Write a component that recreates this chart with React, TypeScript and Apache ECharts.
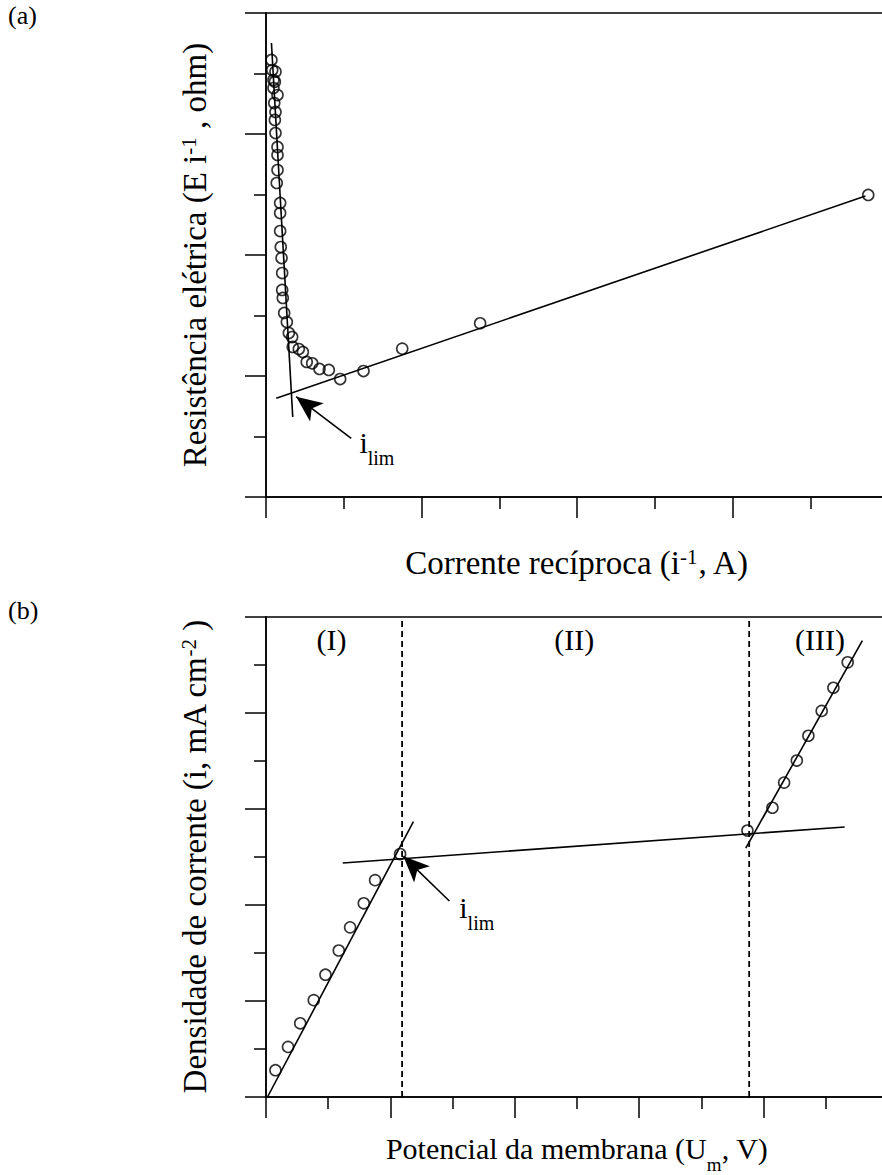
import React, { useEffect, useRef } from "react";
import * as echarts from "echarts";

// ---------- Panel (a): resistance vs reciprocal current ----------
const A_X = [0.035, 0.04, 0.061, 0.048, 0.057, 0.048, 0.074, 0.053, 0.061, 0.057, 0.061, 0.074, 0.074, 0.074, 0.069, 0.091, 0.091, 0.091, 0.095, 0.1, 0.104, 0.104, 0.108, 0.117, 0.134, 0.147, 0.168, 0.172, 0.211, 0.237, 0.262, 0.297, 0.344, 0.404, 0.477, 0.627, 0.876, 1.377, 3.873];
const A_Y = [3.612, 3.529, 3.515, 3.446, 3.432, 3.38, 3.322, 3.256, 3.182, 3.116, 3.008, 2.893, 2.826, 2.702, 2.595, 2.43, 2.347, 2.198, 2.066, 1.975, 1.851, 1.711, 1.645, 1.521, 1.446, 1.355, 1.322, 1.24, 1.223, 1.198, 1.116, 1.105, 1.058, 1.05, 0.975, 1.041, 1.226, 1.436, 2.496];
const A_FIT1_X = [0.035, 0.172];
const A_FIT1_Y = [3.752, 0.661];
const A_FIT2_X = [0.066, 3.855];
const A_FIT2_Y = [0.816, 2.488];
const A_ARROW = [[0.548, 0.485], [0.194, 0.829]];
const A_LABEL_POS = [0.601, 0.57];

// ---------- Panel (b): current density vs membrane potential ----------
const B_X = [0.076, 0.177, 0.275, 0.384, 0.478, 0.585, 0.676, 0.786, 0.877, 1.078, 3.87, 4.071, 4.165, 4.267, 4.36, 4.467, 4.561, 4.676];
const B_Y = [0.279, 0.522, 0.768, 1.009, 1.274, 1.526, 1.767, 2.018, 2.259, 2.531, 2.776, 3.013, 3.275, 3.505, 3.763, 4.022, 4.263, 4.528];
const B_FIT1_X = [0.012, 1.185];
const B_FIT1_Y = [0.0, 2.869];
const B_FIT2_X = [0.617, 4.652];
const B_FIT2_Y = [2.438, 2.813];
const B_FIT3_X = [3.857, 4.794];
const B_FIT3_Y = [2.593, 4.755];
const B_DASH_X = [1.094, 3.884];
const B_ARROW = [[1.474, 2.042], [1.104, 2.507]];
const B_LABEL_POS = [1.554, 2.128];
const B_REGIONS = ["(I)", "(II)", "(III)"];
const B_REGION_X = [0.526, 2.478, 4.454];
const B_REGION_Y = 4.77;

const FONT = '"Liberation Serif", "Times New Roman", serif';
const BLACK = "#000";

function axisBase(fs: number, extra: any) {
  const supFs = Math.round(fs * 0.63);
  return {
    type: "value",
    interval: 1,
    axisLine: { show: true, lineStyle: { color: BLACK, width: 1.5 } },
    axisTick: { show: true, inside: false, length: 21, lineStyle: { color: BLACK, width: 1.5 } },
    minorTick: { show: true, splitNumber: 2, length: 12, lineStyle: { color: BLACK, width: 1.5 } },
    axisLabel: { show: false },
    splitLine: { show: false },
    minorSplitLine: { show: false },
    nameLocation: "middle",
    nameTextStyle: {
      color: BLACK,
      fontFamily: FONT,
      fontSize: fs,
      lineHeight: fs + 6,
      rich: {
        t: { fontSize: fs, lineHeight: fs + 6, fontFamily: FONT, color: BLACK, verticalAlign: "top" },
        sup: { fontSize: supFs, lineHeight: supFs, fontFamily: FONT, color: BLACK, verticalAlign: "top" },
        sub: { fontSize: supFs, lineHeight: supFs, fontFamily: FONT, color: BLACK, verticalAlign: "top", padding: [Math.round(fs * 0.73), 0, 0, 0] },
      },
    },
    ...extra,
  };
}

function pairs(xs: number[], ys: number[]) {
  return xs.map((x, i) => [x, ys[i]]);
}

function fitLine(xs: number[], ys: number[], idx: number) {
  return {
    type: "line",
    xAxisIndex: idx,
    yAxisIndex: idx,
    data: pairs(xs, ys),
    symbol: "none",
    showSymbol: false,
    silent: true,
    lineStyle: { color: BLACK, width: 1.6 },
    z: 3,
  };
}

function arrow(pts: number[][], idx: number) {
  return {
    type: "line",
    xAxisIndex: idx,
    yAxisIndex: idx,
    data: [],
    silent: true,
    markLine: {
      silent: true,
      animation: false,
      label: { show: false },
      lineStyle: { color: BLACK, width: 1.6, type: "solid" },
      emphasis: { disabled: true },
      data: [
        [
          { coord: pts[0], symbol: "none" },
          { coord: pts[1], symbol: "arrow", symbolSize: [17, 26] },
        ],
      ],
    },
  };
}

const carrier = {
  type: "scatter",
  symbol: "circle",
  symbolSize: 0.1,
  silent: true,
  itemStyle: { color: "#ffffff", opacity: 1 },
  emphasis: { disabled: true },
  z: 6,
};

function ilimLabel(pos: number[], idx: number) {
  return {
    ...carrier,
    xAxisIndex: idx,
    yAxisIndex: idx,
    data: [pos],
    label: {
      show: true,
      position: [0, 0],
      align: "left",
      verticalAlign: "top",
      color: BLACK,
      opacity: 1,
      textBorderWidth: 0,
      formatter: "{a|i}{b|lim}",
      rich: {
        a: { fontSize: 30, lineHeight: 30, fontFamily: FONT, color: BLACK, verticalAlign: "top" },
        b: { fontSize: 20, lineHeight: 20, fontFamily: FONT, color: BLACK, verticalAlign: "top", padding: [20, 0, 0, 0] },
      },
    },
  };
}

export default function App() {
  const ref = useRef<HTMLDivElement>(null);

  useEffect(() => {
    if (!ref.current) return;
    const chart = echarts.init(ref.current, undefined, { renderer: "svg" });

    const scatterStyle = {
      symbol: "circle",
      symbolSize: 11,
      silent: true,
      itemStyle: { color: "rgba(255,255,255,0)", borderColor: BLACK, borderWidth: 1.6 },
      z: 5,
    };

    const option: any = {
      animation: false,
      backgroundColor: "#fff",
      textStyle: { fontFamily: FONT, color: BLACK },
      grid: [
        { left: 266, top: 13, width: 622, height: 484, show: true, borderColor: BLACK, borderWidth: 1.5, backgroundColor: "transparent" },
        { left: 266, top: 617, width: 622, height: 484, show: true, borderColor: BLACK, borderWidth: 1.5, backgroundColor: "transparent" },
      ],
      xAxis: [
        axisBase(33, {
          gridIndex: 0,
          min: 0,
          max: 4,
          name: "{t|Corrente recíproca (i}{sup|-1}{t|, A)}",
          nameGap: 49,
        }),
        axisBase(30, {
          gridIndex: 1,
          min: 0,
          max: 5,
          name: "{t|Potencial da membrana (U}{sub|m}{t|, V)}",
          nameGap: 36,
        }),
      ],
      yAxis: [
        axisBase(33, {
          gridIndex: 0,
          min: 0,
          max: 4,
          name: "{t|Resistência elétrica (E i}{sup|-1}{t| , ohm)}",
          nameGap: 49,
          nameRotate: 90,
        }),
        axisBase(33, {
          gridIndex: 1,
          min: 0,
          max: 5,
          name: "{t|Densidade de corrente (i, mA cm}{sup|-2}{t| )}",
          nameGap: 49,
          nameRotate: 90,
        }),
      ],
      graphic: [
        { type: "text", left: 8, top: 2, style: { text: "(a)", font: `26px ${FONT}`, fill: BLACK } },
        { type: "text", left: 8, top: 597, style: { text: "(b)", font: `26px ${FONT}`, fill: BLACK } },
      ],
      series: [
        // panel a
        fitLine(A_FIT1_X, A_FIT1_Y, 0),
        fitLine(A_FIT2_X, A_FIT2_Y, 0),
        { type: "scatter", xAxisIndex: 0, yAxisIndex: 0, data: pairs(A_X, A_Y), ...scatterStyle },
        arrow(A_ARROW, 0),
        ilimLabel(A_LABEL_POS, 0),
        // panel b
        fitLine(B_FIT1_X, B_FIT1_Y, 1),
        fitLine(B_FIT2_X, B_FIT2_Y, 1),
        fitLine(B_FIT3_X, B_FIT3_Y, 1),
        ...B_DASH_X.map((x) => ({
          type: "line",
          xAxisIndex: 1,
          yAxisIndex: 1,
          data: [[x, 0], [x, 5]],
          symbol: "none",
          silent: true,
          lineStyle: { color: BLACK, width: 1.8, type: [6, 4] },
          z: 2,
        })),
        { type: "scatter", xAxisIndex: 1, yAxisIndex: 1, data: pairs(B_X, B_Y), ...scatterStyle },
        arrow(B_ARROW, 1),
        ilimLabel(B_LABEL_POS, 1),
        {
          ...carrier,
          xAxisIndex: 1,
          yAxisIndex: 1,
          data: B_REGION_X.map((x, i) => ({ value: [x, B_REGION_Y], name: B_REGIONS[i] })),
          label: {
            show: true,
            position: [0, 0],
            align: "center",
            verticalAlign: "middle",
            formatter: (p: any) => p.name,
            fontSize: 30,
            fontFamily: FONT,
            color: BLACK,
            opacity: 1,
            textBorderWidth: 0,
          },
        },
      ],
    };

    chart.setOption(option);
    return () => chart.dispose();
  }, []);

  return (
    <div style={{ position: "absolute", left: 0, top: 0, width: 882, height: 1175, overflow: "hidden", background: "#fff" }}>
      <div ref={ref} style={{ width: 900, height: 1175 }} />
    </div>
  );
}
